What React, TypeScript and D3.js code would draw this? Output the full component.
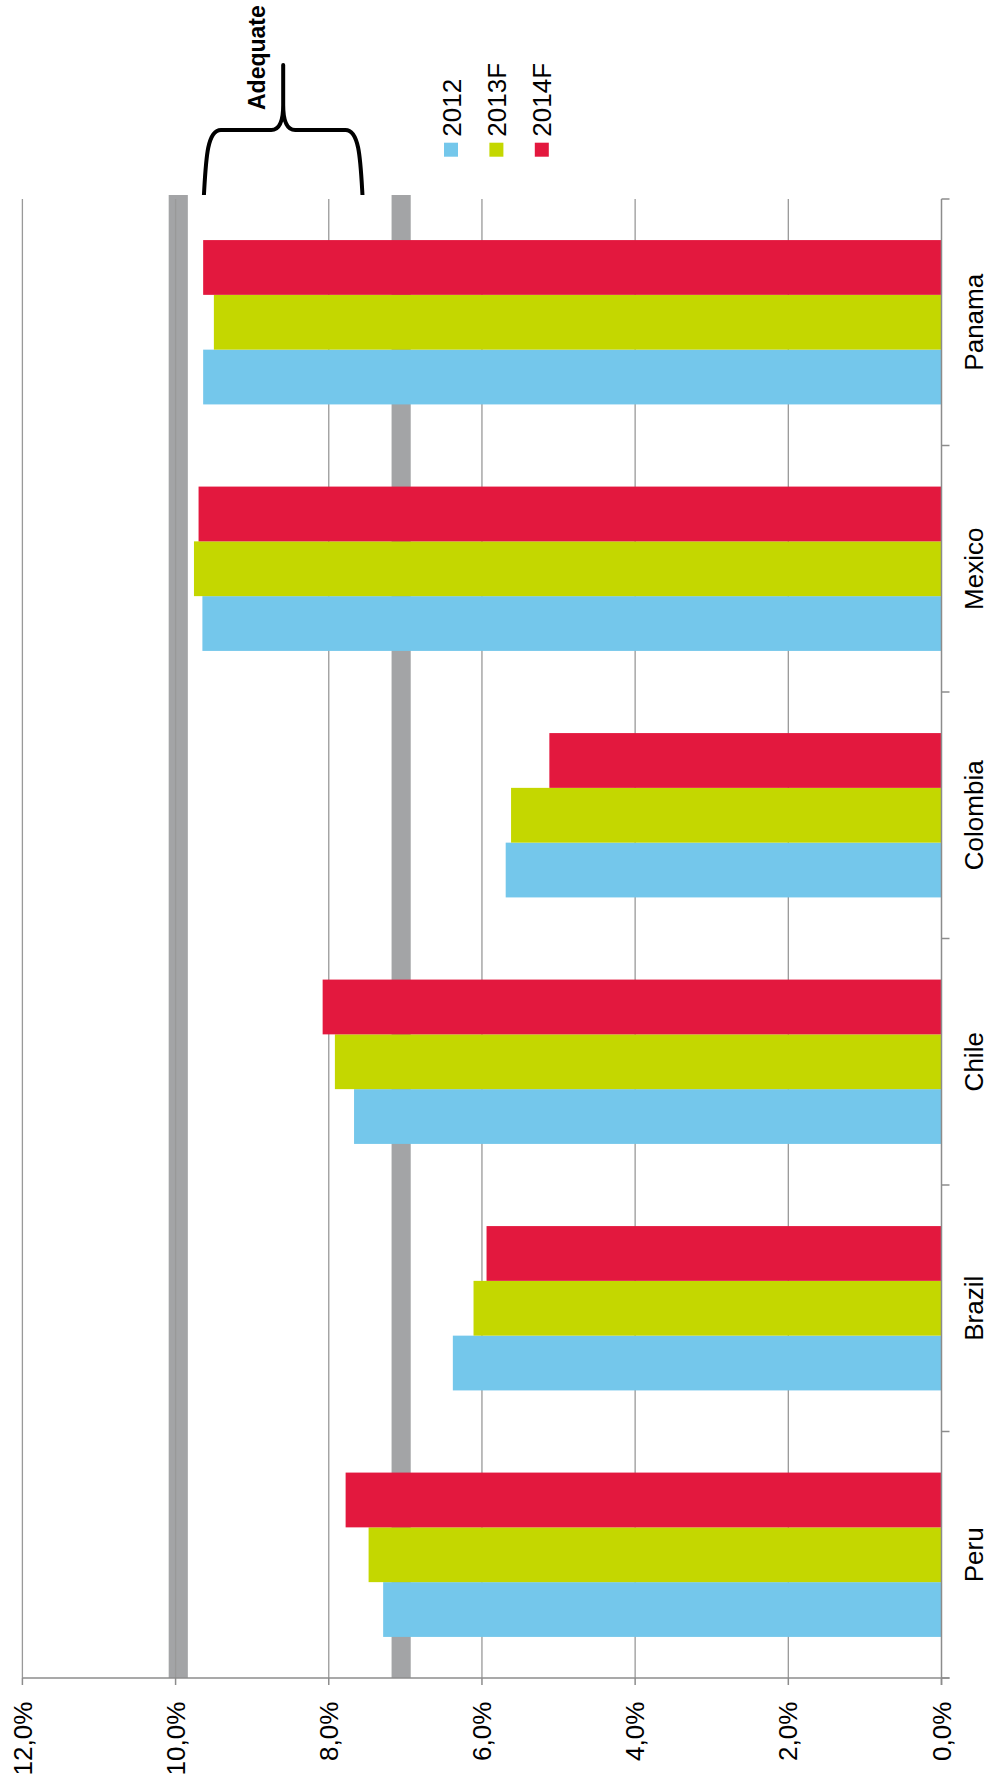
import React from "react";
import * as d3 from "d3";

// chart is drawn as a normal column chart, then turned -90deg on the page
const categories = ["Peru", "Brazil", "Chile", "Colombia", "Mexico", "Panama"];
const seriesNames = ["2012", "2013F", "2014F"];
const values2012 = [7.29, 6.38, 7.67, 5.69, 9.65, 9.64];
const values2013F = [7.48, 6.11, 7.92, 5.62, 9.76, 9.5];
const values2014F = [7.78, 5.94, 8.08, 5.12, 9.7, 9.64];
const seriesColors = ["#74c7eb", "#c4d700", "#e3183e"];
const valueTicks = [0, 2, 4, 6, 8, 10, 12];
const tickLabels = ["0,0%", "2,0%", "4,0%", "6,0%", "8,0%", "10,0%", "12,0%"];
const thresholdBands = [
  [9.84, 10.09],
  [6.93, 7.18],
];
const adequateRange = [7.56, 9.63];

const W = 987;
const H = 1789;
const FONT = "'Liberation Sans', Arial, sans-serif";

export default function App() {
  const seriesValues = [values2012, values2013F, values2014F];

  // chart frame: u runs along categories, v along values (v = page x)
  const cat = d3
    .scaleBand<string>()
    .domain(categories)
    .range([111, 1590])
    .paddingInner(1 / 3)
    .paddingOuter(1 / 6);
  const ser = d3.scaleBand<string>().domain(seriesNames).range([0, cat.bandwidth()]);
  const val = d3.scaleLinear().domain([0, 12]).range([941.5, 22.4]);

  const step = cat.step();
  const boundaries = d3.range(categories.length + 1).map((i) => 111 + i * step);
  const axisU = 111;
  const axisV = val(0);

  // brace, in page coordinates
  const xL = val(adequateRange[1]);
  const xR = val(adequateRange[0]);
  const xM = (xL + xR) / 2;
  const braceBottom = 195;
  const braceBar = 130;
  const bracePeak = 65;
  const brace = [
    `M${xL},${braceBottom}`,
    `C${xL + 2},${braceBar + 30} ${xL + 3},${braceBar} ${xL + 17},${braceBar}`,
    `L${xM - 12},${braceBar}`,
    `Q${xM},${braceBar} ${xM},${braceBar - 25}`,
    `L${xM},${bracePeak}`,
    `L${xM},${braceBar - 25}`,
    `Q${xM},${braceBar} ${xM + 12},${braceBar}`,
    `L${xR - 17},${braceBar}`,
    `C${xR - 3},${braceBar} ${xR - 2},${braceBar + 30} ${xR},${braceBottom}`,
  ].join(" ");

  return (
    <svg
      width={W}
      height={H}
      style={{ position: "absolute", left: 0, top: 0, background: "#fff" }}
      fontFamily={FONT}
    >
      <g transform={`translate(0,${H}) rotate(-90)`}>
        {/* threshold bands */}
        {thresholdBands.map(([lo, hi], i) => (
          <rect
            key={"band" + i}
            x={axisU}
            y={val(hi)}
            width={1594 - axisU}
            height={val(lo) - val(hi)}
            fill="#a3a4a6"
          />
        ))}

        {/* gridlines */}
        {valueTicks
          .filter((t) => t > 0)
          .map((t) => (
            <line
              key={"g" + t}
              x1={axisU}
              x2={1590}
              y1={val(t)}
              y2={val(t)}
              stroke="#999"
              strokeWidth={1.3}
            />
          ))}

        {/* bars */}
        {categories.map((c, ci) =>
          seriesNames.map((s, si) => {
            const v = seriesValues[si][ci];
            return (
              <rect
                key={c + s}
                x={(cat(c) as number) + (ser(s) as number)}
                y={val(v)}
                width={ser.bandwidth()}
                height={val(0) - val(v)}
                fill={seriesColors[si]}
              />
            );
          })
        )}

        {/* value axis */}
        <line x1={axisU} x2={axisU} y1={val(12)} y2={axisV + 8} stroke="#8c8c8c" strokeWidth={1.5} />
        {valueTicks.map((t, i) => (
          <g key={"vt" + t}>
            <line x1={axisU - 7} x2={axisU} y1={val(t)} y2={val(t)} stroke="#8c8c8c" strokeWidth={1.5} />
            <text x={87.3} y={val(t)} dy="0.35em" textAnchor="end" fontSize={26} fill="#000">
              {tickLabels[i]}
            </text>
          </g>
        ))}

        {/* category axis */}
        <line x1={axisU - 7} x2={1590} y1={axisV} y2={axisV} stroke="#8c8c8c" strokeWidth={1.5} />
        {boundaries.map((b, i) => (
          <line key={"ct" + i} x1={b} x2={b} y1={axisV} y2={axisV + 8} stroke="#8c8c8c" strokeWidth={1.5} />
        ))}
        {categories.map((c) => (
          <text
            key={"cl" + c}
            x={(cat(c) as number) + cat.bandwidth() / 2}
            y={983}
            textAnchor="middle"
            fontSize={26}
            fill="#000"
          >
            {c}
          </text>
        ))}

        {/* legend */}
        {seriesNames.map((s, i) => (
          <g key={"lg" + s}>
            <rect x={1632.3} y={444 + i * 45.4} width={14} height={14} fill={seriesColors[i]} />
            <text x={1652.3} y={451 + i * 45.4 + 9.5} fontSize={26} fill="#000">
              {s}
            </text>
          </g>
        ))}

        <text x={1679} y={265} fontSize={23} fontWeight="bold" fill="#000">
          Adequate
        </text>
      </g>

      <path d={brace} fill="none" stroke="#000" strokeWidth={4} strokeLinejoin="round" strokeLinecap="butt" />
    </svg>
  );
}
